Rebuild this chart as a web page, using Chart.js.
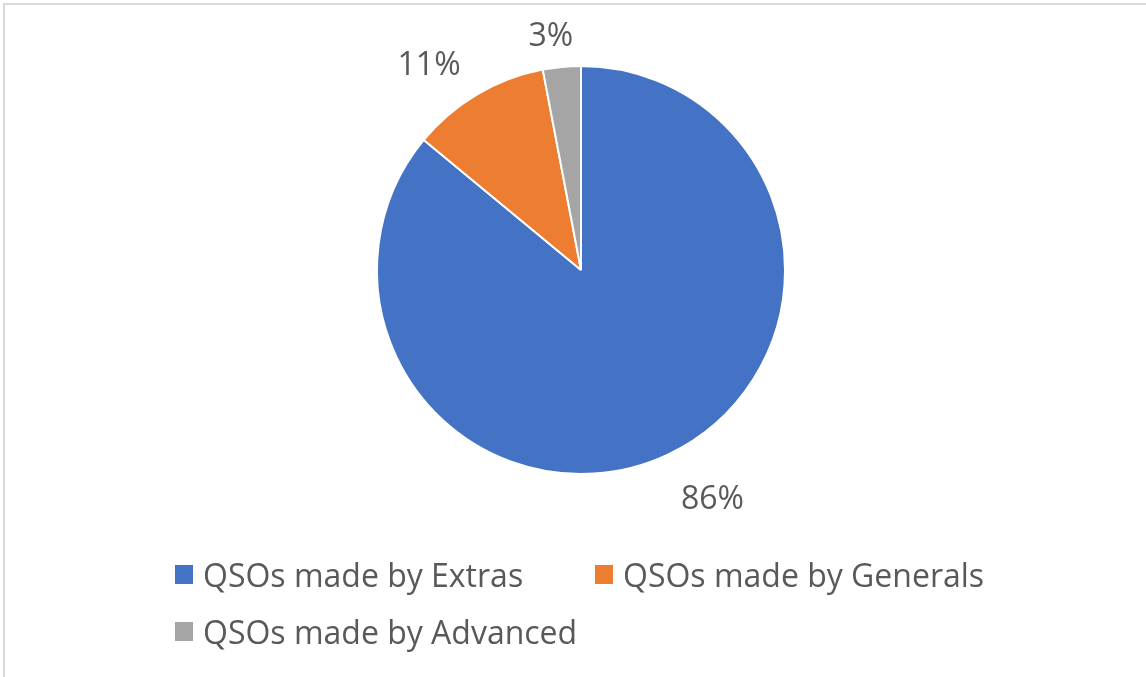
<!DOCTYPE html>
<html>
<head>
<meta charset="utf-8">
<script src="https://cdn.jsdelivr.net/npm/chart.js@4.4.1/dist/chart.umd.min.js"></script>
<style>
  html, body { margin: 0; padding: 0; background: #fff; }
  #wrap { position: relative; width: 1146px; height: 677px; overflow: hidden; font-family: 'Open Sans', sans-serif; }
  #frame { position: absolute; left: 3px; top: 3px; right: -10px; bottom: -10px; border-top: 2px solid #d9d9d9; border-left: 2px solid #d9d9d9; }
  #chart { position: absolute; left: 0; top: 0; }
  .leg { position: absolute; font-size: 32px; line-height: 32px; color: #595959; white-space: nowrap; }
  .sq { position: absolute; width: 18px; height: 19px; }
</style>
</head>
<body>
<div id="wrap">
  <div id="frame"></div>
  <canvas id="chart" width="1146" height="677"></canvas>
  <div id="legend"></div>
</div>
<script>
const categories = ['QSOs made by Extras', 'QSOs made by Generals', 'QSOs made by Advanced'];
const shares = [86, 11, 3];
const sliceColors = ['#4472C4', '#ED7D31', '#A5A5A5'];

// where the percent labels sit: distance from centre and a small angle nudge (deg)
const labelDist = [263, 256, 237];
const labelNudge = [-4.8, -5.8, -1.9];

const outsideLabels = {
  id: 'outsideLabels',
  afterDatasetsDraw(chart) {
    const ctx = chart.ctx;
    const meta = chart.getDatasetMeta(0);
    ctx.save();
    ctx.font = '32px "Open Sans", sans-serif';
    ctx.fillStyle = '#595959';
    ctx.textAlign = 'center';
    ctx.textBaseline = 'alphabetic';
    meta.data.forEach((arc, i) => {
      const p = arc.getProps(['x', 'y', 'startAngle', 'endAngle'], true);
      const mid = (p.startAngle + p.endAngle) / 2 + labelNudge[i] * Math.PI / 180;
      const lx = p.x + Math.cos(mid) * labelDist[i];
      const ly = p.y + Math.sin(mid) * labelDist[i];
      ctx.fillText(shares[i] + '%', lx, ly + 11);
    });
    ctx.restore();
  }
};

new Chart(document.getElementById('chart'), {
  type: 'pie',
  data: {
    labels: categories,
    datasets: [{
      data: shares,
      backgroundColor: sliceColors,
      borderColor: '#ffffff',
      borderWidth: 2
    }]
  },
  options: {
    responsive: false,
    animation: false,
    layout: { padding: { left: 16, right: 0, top: 65, bottom: 202 } },
    plugins: {
      legend: { display: false },
      tooltip: { enabled: false }
    }
  },
  plugins: [outsideLabels]
});

// legend, laid out like the original (two items on first row, one below)
const legendSpots = [
  { sq: [175, 565], txt: [203, 559] },
  { sq: [595, 565], txt: [623, 559] },
  { sq: [175, 622], txt: [203, 616] }
];
const legend = document.getElementById('legend');
categories.forEach((name, i) => {
  const sq = document.createElement('div');
  sq.className = 'sq';
  sq.style.left = legendSpots[i].sq[0] + 'px';
  sq.style.top = legendSpots[i].sq[1] + 'px';
  sq.style.background = sliceColors[i];
  const t = document.createElement('div');
  t.className = 'leg';
  t.style.left = legendSpots[i].txt[0] + 'px';
  t.style.top = legendSpots[i].txt[1] + 'px';
  t.textContent = name;
  legend.appendChild(sq);
  legend.appendChild(t);
});
</script>
</body>
</html>
